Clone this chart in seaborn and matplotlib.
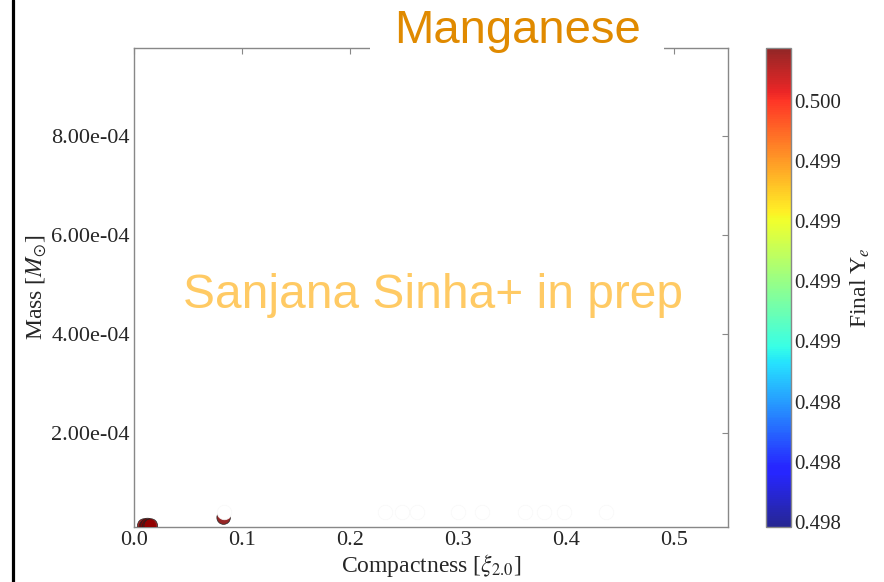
import numpy as np
import pandas as pd
import matplotlib
matplotlib.use("Agg")
import matplotlib.pyplot as plt
from matplotlib.colors import ListedColormap, Normalize
from matplotlib.cm import ScalarMappable
from matplotlib.lines import Line2D
from matplotlib.ticker import FixedLocator, FormatStrFormatter
import seaborn as sns

# Manganese yield per model
compactness = [0.0095, 0.0110, 0.0125, 0.0140, 0.0155, 0.0830]
mass = [1.2e-5, 1.0e-5, 1.3e-5, 1.1e-5, 1.2e-5, 2.8e-5]
final_ye = [0.49985, 0.49990, 0.49988, 0.49992, 0.49987, 0.49990]

# models with negligible yield (drawn pale)
pale_compactness = [0.083, 0.232, 0.248, 0.262, 0.300, 0.322, 0.362, 0.380, 0.398, 0.437]
pale_mass = [4.0e-5] * 10

ye_min, ye_max = 0.497687, 0.499915
cbar_ticks = [0.49771, 0.49799, 0.49827, 0.49855, 0.49883, 0.49911, 0.49939, 0.49967]
x_ticks = [0.0, 0.1, 0.2, 0.3, 0.4, 0.5]
y_ticks = [2e-4, 4e-4, 6e-4, 8e-4]

sns.set_theme(style="white")
plt.rcParams["font.family"] = ["Liberation Serif", "DejaVu Serif"]
plt.rcParams["mathtext.fontset"] = "stix"

jet = plt.get_cmap("jet")
cols = jet(np.linspace(0, 1, 256))
cols[:, 3] = 0.85
cmap = ListedColormap(cols)
norm = Normalize(vmin=ye_min, vmax=ye_max)

fig = plt.figure(figsize=(8.84, 5.82), dpi=100)
ax = fig.add_axes([0.1516, 0.0945, 0.6719, 0.823])
cax = fig.add_axes([0.8665, 0.0945, 0.0283, 0.823])

df = pd.DataFrame({"xi": compactness, "mass": mass, "ye": final_ye})
pale = pd.DataFrame({"xi": pale_compactness, "mass": pale_mass})

sns.scatterplot(data=df, x="xi", y="mass", hue="ye", palette=cmap, hue_norm=norm,
                s=95, edgecolor="#222222", linewidth=0.6, alpha=0.85,
                legend=False, ax=ax, zorder=3)
sns.scatterplot(data=pale, x="xi", y="mass", color="white", s=110,
                edgecolor="#f8f8f8", linewidth=0.5, legend=False, ax=ax, zorder=4)

ax.set_xlim(0.0, 0.55)
ax.set_ylim(0.9e-5, 9.78e-4)
ax.set_xticks(x_ticks)
ax.set_yticks(y_ticks)
ax.xaxis.set_major_formatter(FormatStrFormatter("%.1f"))
ax.yaxis.set_major_formatter(FormatStrFormatter("%.2e"))
ax.tick_params(direction="in", length=4, width=0.8, color="#888888",
               top=True, right=True, labelsize=16, pad=3)
for sp in ax.spines.values():
    sp.set_color("#888888")
    sp.set_linewidth(1.0)
ax.set_xlabel(r"Compactness [$\xi_{2.0}$]", fontsize=17, labelpad=1)
ax.set_ylabel(r"Mass [$M_{\odot}$]", fontsize=17, labelpad=2)

sm = ScalarMappable(norm=norm, cmap=cmap)
cb = fig.colorbar(sm, cax=cax)
cb.locator = FixedLocator(cbar_ticks)
cb.formatter = FormatStrFormatter("%.3f")
cb.update_ticks()
cax.tick_params(length=0, labelsize=15, pad=2)
cb.outline.set_edgecolor("#888888")
cb.outline.set_linewidth(1.0)
cb.set_label(r"Final Y$_e$", fontsize=17, labelpad=6)

fig.text(0.4898, 1 - 308 / 582, "Sanjana Sinha+ in prep", fontsize=34.5,
         family="Liberation Sans", color="#FFC85C", alpha=0.95,
         ha="center", va="baseline", zorder=5)

fig.text(517 / 884, 1 - 43 / 582, "Manganese", fontsize=34, family="Liberation Sans",
         color="#E08A00", ha="center", va="baseline", zorder=6,
         bbox=dict(facecolor="white", edgecolor="none", pad=17))

fig.add_artist(Line2D([12.5 / 884, 12.5 / 884], [0, 1], color="black", lw=2.3))

fig.savefig("out.png", dpi=100)
